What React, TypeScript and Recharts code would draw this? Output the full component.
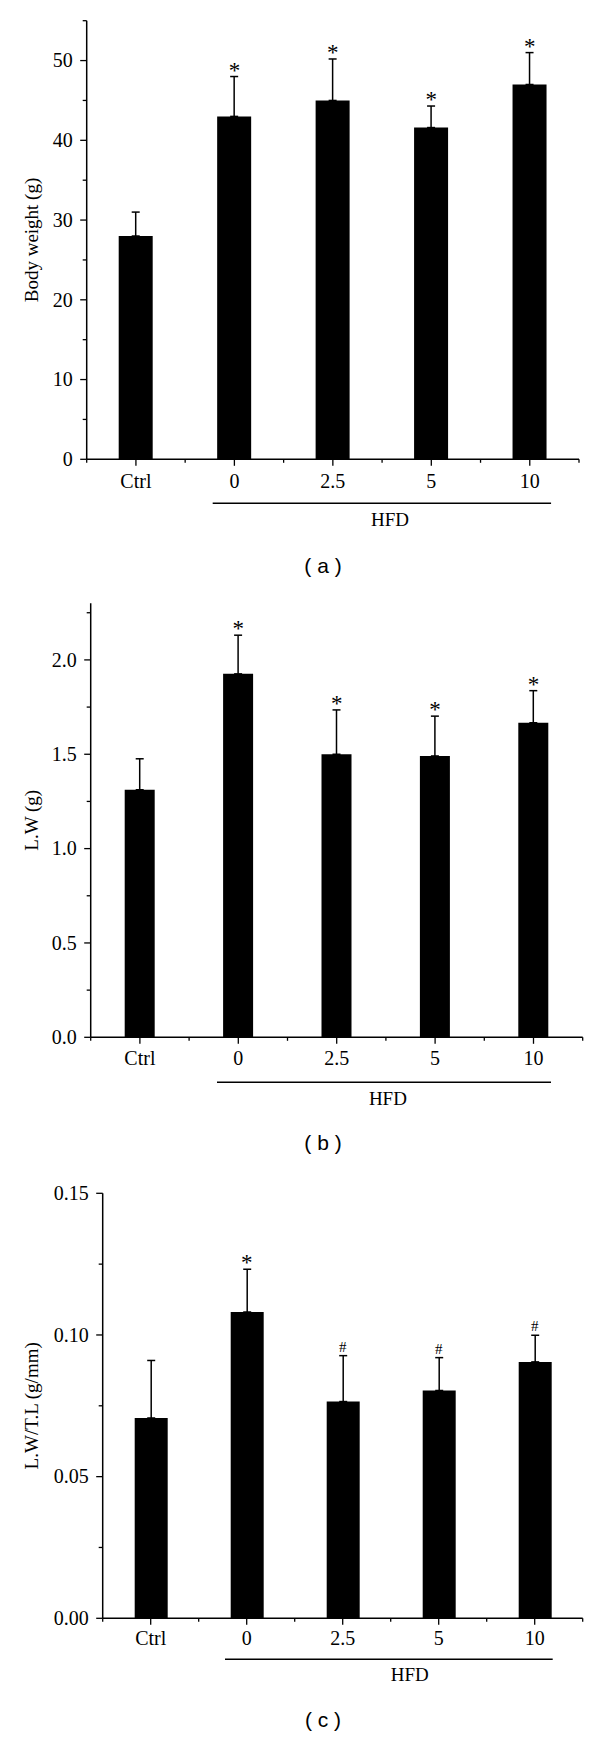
import React from 'react';
import { ComposedChart, Bar, XAxis, YAxis, ErrorBar, Scatter } from 'recharts';

// ---------- data ----------
const categories = ['Ctrl', '0', '2.5', '5', '10'];

const bodyWeight = [28.0, 43.0, 45.0, 41.6, 47.0];
const bodyWeightErr = [3.0, 5.0, 5.2, 2.7, 4.0];
const bodyWeightMarks = ['', '*', '*', '*', '*'];
const bodyWeightTicks = [0, 5, 10, 15, 20, 25, 30, 35, 40, 45, 50, 55];
const bodyWeightMajor = [0, 10, 20, 30, 40, 50];

const liverWeight = [1.312, 1.926, 1.5, 1.491, 1.667];
const liverWeightErr = [0.164, 0.205, 0.235, 0.211, 0.17];
const liverWeightMarks = ['', '*', '*', '*', '*'];
const liverWeightTicks = [0, 0.25, 0.5, 0.75, 1.0, 1.25, 1.5, 1.75, 2.0, 2.25];
const liverWeightMajor = [0, 0.5, 1.0, 1.5, 2.0];

const ratio = [0.0707, 0.1081, 0.0765, 0.0804, 0.0905];
const ratioErr = [0.0203, 0.0151, 0.0162, 0.0116, 0.0094];
const ratioMarks = ['', '*', '#', '#', '#'];
const ratioTicks = [0, 0.025, 0.05, 0.075, 0.1, 0.125, 0.15];
const ratioMajor = [0, 0.05, 0.1, 0.15];

const groupLabel = 'HFD';

// ---------- helpers ----------
const SERIF = '"Liberation Serif", "Times New Roman", serif';
const SANS = '"Liberation Sans", Arial, sans-serif';
const TICK_FONT = 20;
const TITLE_FONT = 19;

function buildRows(values: number[], errs: number[], marks: string[]) {
  return categories.map((cat, i) => ({
    cat,
    value: values[i],
    err: [0, errs[i]],
    top: values[i] + errs[i],
    mark: marks[i],
  }));
}

const makeYTick = (major: number[], decimals: number) => (props: any) => {
  const { x, y, payload } = props;
  const v = Number(payload.value);
  const isMajor = major.some((m) => Math.abs(m - v) < 1e-9);
  return (
    <g>
      <line x1={x - (isMajor ? 6.5 : 4)} x2={x} y1={y} y2={y} stroke="#000" strokeWidth={1.3} />
      {isMajor && (
        <text x={x - 14} y={y} dy="0.34em" textAnchor="end" fontFamily={SERIF} fontSize={TICK_FONT} fill="#000">
          {v.toFixed(decimals)}
        </text>
      )}
    </g>
  );
};

interface Cfg {
  top: number;
  height: number;
  margin: { top: number; right: number; bottom: number; left: number };
  xAxisHeight: number;
  plotWidth: number;
  barSize: number;
  domainMax: number;
  labelDist: number;
  tickText: number;
  hfdLine: number;
  hfdStart: number;
  hfdEnd: number;
  hfdText: number;
  hfdShift: number;
}

const MARK_SIZE = 23;
const MARK_DY = 1;
const HASH_SIZE = 15;
const HASH_DY = -4;

const makeXTick = (cfg: Cfg) => (props: any) => {
  const { x, y, payload, index } = props;
  const n = categories.length;
  const half =
    payload && typeof payload.offset === 'number' && payload.offset > 0 ? payload.offset : cfg.plotWidth / n / 2;
  const last = index === n - 1;
  return (
    <g>
      <line x1={x} x2={x} y1={y} y2={y + 6.5} stroke="#000" strokeWidth={1.3} />
      <line x1={x - half} x2={x - half} y1={y} y2={y + 3.5} stroke="#000" strokeWidth={1.3} />
      {last && <line x1={x + half} x2={x + half} y1={y} y2={y + 3.5} stroke="#000" strokeWidth={1.3} />}
      <text x={x} y={y + cfg.tickText} textAnchor="middle" fontFamily={SERIF} fontSize={TICK_FONT} fill="#000">
        {payload.value}
      </text>
      {last && (
        <g>
          <line
            x1={x - 6 * half - cfg.hfdStart}
            x2={x + cfg.hfdEnd}
            y1={y + cfg.hfdLine}
            y2={y + cfg.hfdLine}
            stroke="#000"
            strokeWidth={1.4}
          />
          <text
            x={x - 3 * half + cfg.hfdShift}
            y={y + cfg.hfdText}
            textAnchor="middle"
            fontFamily={SERIF}
            fontSize={TITLE_FONT}
            fill="#000"
          >
            {groupLabel}
          </text>
        </g>
      )}
    </g>
  );
};

function Panel(props: {
  cfg: Cfg;
  rows: any[];
  ticks: number[];
  major: number[];
  decimals: number;
  title: string;
}) {
  const { cfg, rows, ticks, major, decimals, title } = props;
  const markShape = (p: any) => {
    const mark = p.payload && p.payload.mark;
    if (!mark || p.cx == null || p.cy == null) return <g />;
    const isHash = mark === '#';
    return (
      <text
        x={p.cx}
        y={p.cy + (isHash ? HASH_DY : MARK_DY)}
        textAnchor="middle"
        fontFamily={SERIF}
        fontSize={isHash ? HASH_SIZE : MARK_SIZE}
        fill="#000"
      >
        {mark}
      </text>
    );
  };
  return (
    <div style={{ position: 'absolute', left: 0, top: cfg.top }}>
      <ComposedChart width={600} height={cfg.height} data={rows} margin={cfg.margin} barSize={cfg.barSize}>
        <XAxis
          dataKey="cat"
          type="category"
          height={cfg.xAxisHeight}
          interval={0}
          tickSize={0}
          tickMargin={0}
          tickLine={false}
          axisLine={{ stroke: '#000', strokeWidth: 1.5 }}
          tick={makeXTick(cfg)}
        />
        <YAxis
          type="number"
          width={80}
          domain={[0, cfg.domainMax]}
          ticks={ticks}
          interval={0}
          tickSize={0}
          tickMargin={0}
          tickLine={false}
          axisLine={{ stroke: '#000', strokeWidth: 1.5 }}
          tick={makeYTick(major, decimals)}
          label={{
            content: (lp: any) => {
              const vb = lp.viewBox || {};
              const cx = vb.x + vb.width - cfg.labelDist;
              const cy = vb.y + vb.height / 2;
              return (
                <text
                  transform={`translate(${cx},${cy}) rotate(-90)`}
                  textAnchor="middle"
                  dominantBaseline="central"
                  fontFamily={SERIF}
                  fontSize={TITLE_FONT}
                  fill="#000"
                >
                  {title}
                </text>
              );
            },
          }}
        />
        <Bar dataKey="value" fill="#000" isAnimationActive={false}>
          <ErrorBar dataKey="err" width={4} stroke="#000" strokeWidth={1.5} direction="y" />
        </Bar>
        <Scatter dataKey="top" isAnimationActive={false} shape={markShape} />
      </ComposedChart>
    </div>
  );
}

const cfgA: Cfg = {
  top: 0,
  height: 600,
  margin: { top: 20.7, right: 21, bottom: 20.7, left: 6.7 },
  xAxisHeight: 120,
  plotWidth: 492.3,
  barSize: 34,
  domainMax: 55,
  labelDist: 55,
  tickText: 29,
  hfdLine: 44,
  hfdStart: 21.7,
  hfdEnd: 21.3,
  hfdText: 67,
  hfdShift: 8,
};

const cfgB: Cfg = {
  top: 580,
  height: 600,
  margin: { top: 23.3, right: 17.3, bottom: 22.7, left: 10.7 },
  xAxisHeight: 120,
  plotWidth: 492,
  barSize: 30,
  domainMax: 2.3,
  labelDist: 59.7,
  tickText: 28,
  hfdLine: 45,
  hfdStart: 21.3,
  hfdEnd: 17.5,
  hfdText: 68,
  hfdShift: 2,
};

const cfgC: Cfg = {
  top: 1160,
  height: 577,
  margin: { top: 33.3, right: 17.3, bottom: 8.7, left: 22.7 },
  xAxisHeight: 110,
  plotWidth: 480,
  barSize: 33,
  domainMax: 0.15,
  labelDist: 71.7,
  tickText: 27,
  hfdLine: 41,
  hfdStart: 21.7,
  hfdEnd: 18,
  hfdText: 63,
  hfdShift: 19,
};

const captions = ['( a )', '( b )', '( c )'];
const captionY = [573, 1150, 1727];

export default function App() {
  return (
    <div style={{ position: 'absolute', left: 0, top: 0, width: 600, height: 1737, background: '#fff' }}>
      <Panel
        cfg={cfgA}
        rows={buildRows(bodyWeight, bodyWeightErr, bodyWeightMarks)}
        ticks={bodyWeightTicks}
        major={bodyWeightMajor}
        decimals={0}
        title="Body weight (g)"
      />
      <Panel
        cfg={cfgB}
        rows={buildRows(liverWeight, liverWeightErr, liverWeightMarks)}
        ticks={liverWeightTicks}
        major={liverWeightMajor}
        decimals={1}
        title="L.W (g)"
      />
      <Panel
        cfg={cfgC}
        rows={buildRows(ratio, ratioErr, ratioMarks)}
        ticks={ratioTicks}
        major={ratioMajor}
        decimals={2}
        title="L.W/T.L (g/mm)"
      />
      <svg
        width={600}
        height={1737}
        style={{ position: 'absolute', left: 0, top: 0, pointerEvents: 'none' }}
      >
        {captions.map((c, i) => (
          <text key={c} x={323} y={captionY[i]} textAnchor="middle" fontFamily={SANS} fontSize={21} fill="#000" style={{ whiteSpace: 'pre' }}>
            {c}
          </text>
        ))}
      </svg>
    </div>
  );
}
